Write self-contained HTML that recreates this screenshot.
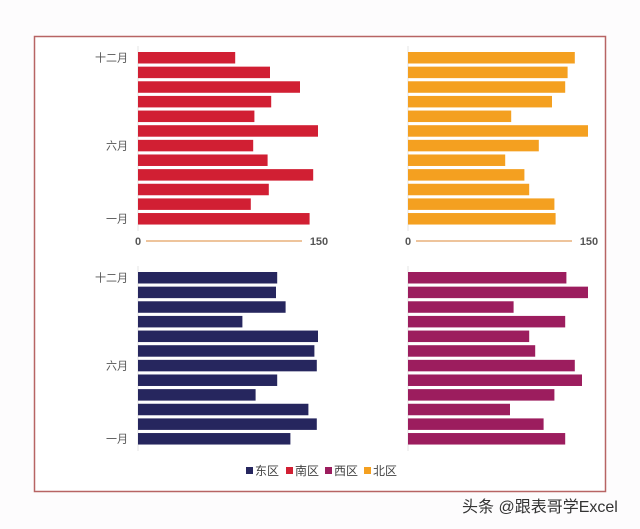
<!DOCTYPE html>
<html><head><meta charset="utf-8"><style>
html,body{margin:0;padding:0;background:#fff;}
svg{display:block;font-family:"Liberation Sans","Noto Sans CJK SC",sans-serif;}
</style></head><body>
<svg id="chart" width="640" height="529" viewBox="0 0 640 529" xmlns="http://www.w3.org/2000/svg">
<rect x="0" y="0" width="640" height="529" fill="#fdfcfd"/>
<rect x="34.5" y="36.5" width="571" height="455" fill="#fff" stroke="#b76464" stroke-width="1.5"/>
<g id="panels"></g>
<g font-size="12" fill="#444">
<rect x="246" y="467" width="7" height="7" fill="#26265e"/><text x="255" y="475">东区</text>
<rect x="286" y="467" width="7" height="7" fill="#d11f33"/><text x="295" y="475">南区</text>
<rect x="325" y="467" width="7" height="7" fill="#9c1d5e"/><text x="334" y="475">西区</text>
<rect x="364" y="467" width="7" height="7" fill="#f4a020"/><text x="373" y="475">北区</text>
</g>
<text x="462" y="512" font-size="16" fill="#333">头条 @跟表哥学Excel</text>
</svg>
<script>
// months top (十二月) to bottom (一月)
const months = ["十二月","十一月","十月","九月","八月","七月","六月","五月","四月","三月","二月","一月"];
const south = [81,110,135,111,97,150,96,108,146,109,94,143];
const north = [139,133,131,120,86,150,109,81,97,101,122,123];
const east = [116,115,123,87,150,147,149,116,98,142,149,127];
const west = [132,150,88,131,101,106,139,145,122,85,113,131];
const axisTicks = [0,150];
const shownLabels = ["十二月","六月","一月"];

const svg = document.getElementById('panels');
const NS = "http://www.w3.org/2000/svg";
function xScale(x0, v){ return x0 + v * 1.2; }
function yScale(y0, i){ return y0 + i * 14.64; }
function mk(tag, attrs){ const e = document.createElementNS(NS, tag); for (const k in attrs) e.setAttribute(k, attrs[k]); return e; }

const panels = [
  {name:"south", data:south, color:"#d11f33", x0:138, y0:52, axis:true, labels:true},
  {name:"north", data:north, color:"#f4a020", x0:408, y0:52, axis:true, labels:false},
  {name:"east", data:east, color:"#26265e", x0:138, y0:272, axis:false, labels:true},
  {name:"west", data:west, color:"#9c1d5e", x0:408, y0:272, axis:false, labels:false}
];
panels.forEach(p => {
  const g = mk('g', {});
  
  
  svg.appendChild(g);
  const vl = mk('line', {x1:p.x0, x2:p.x0, y1:p.y0-6, y2:yScale(p.y0, 11)+18, stroke:"#e6e6e6", "stroke-width":1});
  
  
  g.appendChild(vl);
  p.data.forEach((v, i) => {
    const r = mk('rect', {x:p.x0, y:yScale(p.y0, i), width:xScale(p.x0, v)-p.x0, height:11.5, fill:p.color});
    
    
    g.appendChild(r);
    if (p.labels && shownLabels.includes(months[i])) {
      const t = mk('text', {x:128, y:yScale(p.y0, i)+9.5, "text-anchor":"end", "font-size":11, fill:"#555"});
      t.textContent = months[i];
      
      
      g.appendChild(t);
    }
  });
  if (p.axis) {
    const ay = 241;
    const ln = mk('line', {x1:xScale(p.x0, axisTicks[0])+8, x2:xScale(p.x0, axisTicks[1])-16, y1:ay, y2:ay, stroke:"#e3a060", "stroke-width":1.2});
    
    
    g.appendChild(ln);
    axisTicks.forEach(tv => {
      const t = mk('text', {x:xScale(p.x0, tv)+(tv===0?0:1), y:ay+4, "text-anchor":"middle", "font-size":11, "font-weight":"bold", fill:"#555"});
      t.textContent = tv;
      
      
      g.appendChild(t);
    });
  }
});
</script>
</body></html>
